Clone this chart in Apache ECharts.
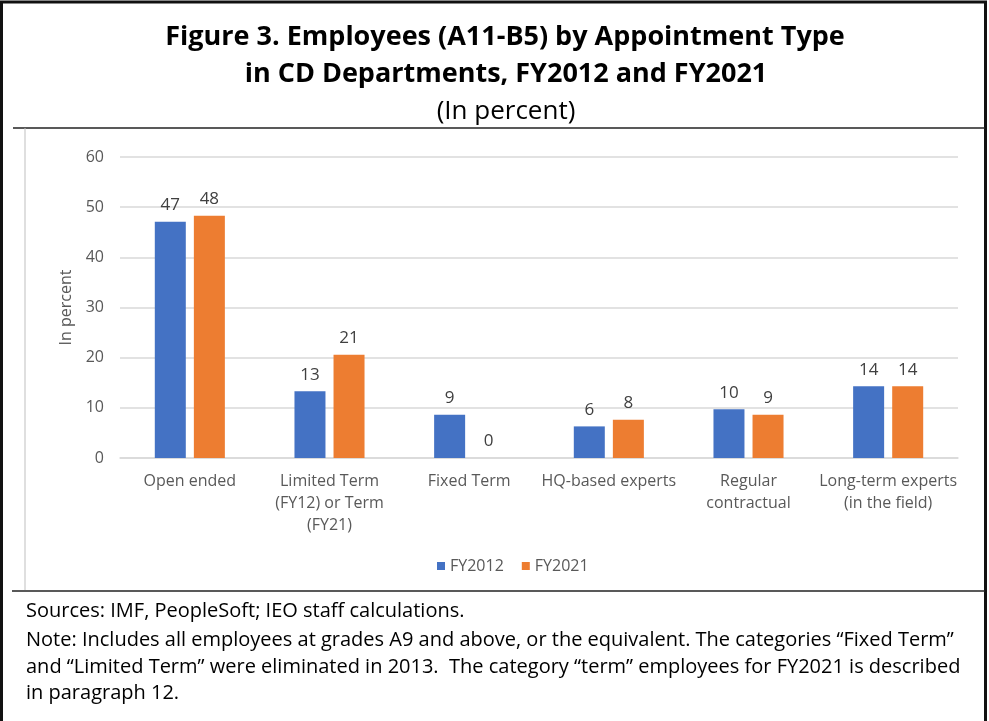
<!DOCTYPE html>
<html>
<head>
<meta charset="utf-8">
<script src="https://cdn.jsdelivr.net/npm/echarts@6/dist/echarts.min.js"></script>
<style>
  html, body { margin: 0; padding: 0; background: #fff; }
  #main { width: 989px; height: 721px; }
</style>
</head>
<body>
<div id="main"></div>
<script>
var categories = ['Open ended', 'Limited Term\n(FY12) or Term\n(FY21)', 'Fixed Term', 'HQ-based experts', 'Regular\ncontractual', 'Long-term experts\n(in the field)']
var fy2012 = [47.1, 13.3, 8.6, 6.3, 9.7, 14.3]
var fy2021 = [48.3, 20.6, 0, 7.6, 8.6, 14.3]
var titleLines = ['Figure 3. Employees (A11-B5) by Appointment Type', 'in CD Departments, FY2012 and FY2021']
var subtitle = '(In percent)'
var footLines = [
  'Sources: IMF, PeopleSoft; IEO staff calculations.',
  'Note: Includes all employees at grades A9 and above, or the equivalent. The categories \u201cFixed Term\u201d',
  'and \u201cLimited Term\u201d were eliminated in 2013.  The category \u201cterm\u201d employees for FY2021 is described',
  'in paragraph 12.'
]

var font = '"Open Sans", "Noto Sans", sans-serif'
var myChart = echarts.init(document.getElementById('main'))

var labelOpt = {
  show: true,
  position: 'top',
  distance: 8,
  color: '#404040',
  fontSize: 17,
  fontFamily: font,
  formatter: function (p) { return Math.round(p.value) }
}

var graphics = [
  // outer frame
  { type: 'rect', shape: { x: 1.5, y: 2, width: 984, height: 730 }, style: { fill: 'none', stroke: '#111', lineWidth: 3 }, silent: true },
  // inner chart box
  { type: 'line', shape: { x1: 13, y1: 128, x2: 985, y2: 128 }, style: { stroke: '#222', lineWidth: 1.5 } },
  { type: 'line', shape: { x1: 25, y1: 128, x2: 25, y2: 590 }, style: { stroke: '#bfbfbf', lineWidth: 1 } },
  { type: 'line', shape: { x1: 12, y1: 591, x2: 985, y2: 591 }, style: { stroke: '#222', lineWidth: 1.5 } },
  // titles
  { type: 'text', x: 505, y: 37, style: { text: titleLines[0], fill: '#000', fontSize: 27, fontWeight: 'bold', fontFamily: font, align: 'center', verticalAlign: 'middle' } },
  { type: 'text', x: 506, y: 74, style: { text: titleLines[1], fill: '#000', fontSize: 27, fontWeight: 'bold', fontFamily: font, align: 'center', verticalAlign: 'middle' } },
  { type: 'text', x: 506, y: 112, style: { text: subtitle, fill: '#000', fontSize: 26, fontFamily: font, align: 'center', verticalAlign: 'middle' } }
]
var footY = [611, 640, 667, 693]
footLines.forEach(function (t, i) {
  graphics.push({
    type: 'text', x: 26, y: footY[i],
    style: { text: t, fill: '#000', fontSize: 20, fontFamily: font, verticalAlign: 'middle' }
  })
})

var option = {
  textStyle: { fontFamily: font },
  legend: {
    data: ['FY2012', 'FY2021'],
    left: 432,
    top: 553,
    icon: 'rect',
    itemWidth: 8,
    itemHeight: 8,
    itemGap: 18,
    textStyle: { color: '#595959', fontSize: 16, fontFamily: font }
  },
  grid: { left: 120, right: 31, top: 157, bottom: 263 },
  xAxis: {
    type: 'category',
    data: categories,
    axisLine: { show: true, lineStyle: { color: '#d9d9d9', width: 1.5 } },
    axisTick: { show: false },
    axisLabel: { color: '#595959', fontSize: 16, lineHeight: 22, margin: 12, interval: 0, fontFamily: font }
  },
  yAxis: {
    type: 'value',
    min: 0, max: 60, interval: 10,
    name: 'In percent',
    nameLocation: 'middle',
    nameGap: 46,
    nameRotate: 90,
    nameMoveOverlap: false,
    nameTextStyle: { color: '#595959', fontSize: 16, fontFamily: font },
    axisLine: { show: false },
    axisTick: { show: false },
    axisLabel: { color: '#595959', fontSize: 16, margin: 16, fontFamily: font },
    splitLine: { lineStyle: { color: '#d9d9d9', width: 1.5 } }
  },
  series: [
    {
      name: 'FY2012', type: 'bar', data: fy2012,
      barWidth: 31, barGap: '26%',
      itemStyle: { color: '#4472C4' },
      label: labelOpt
    },
    {
      name: 'FY2021', type: 'bar', data: fy2021,
      barWidth: 31,
      itemStyle: { color: '#ED7D31' },
      label: labelOpt
    }
  ],
  graphic: graphics
}
myChart.setOption(option)
</script>
</body>
</html>
